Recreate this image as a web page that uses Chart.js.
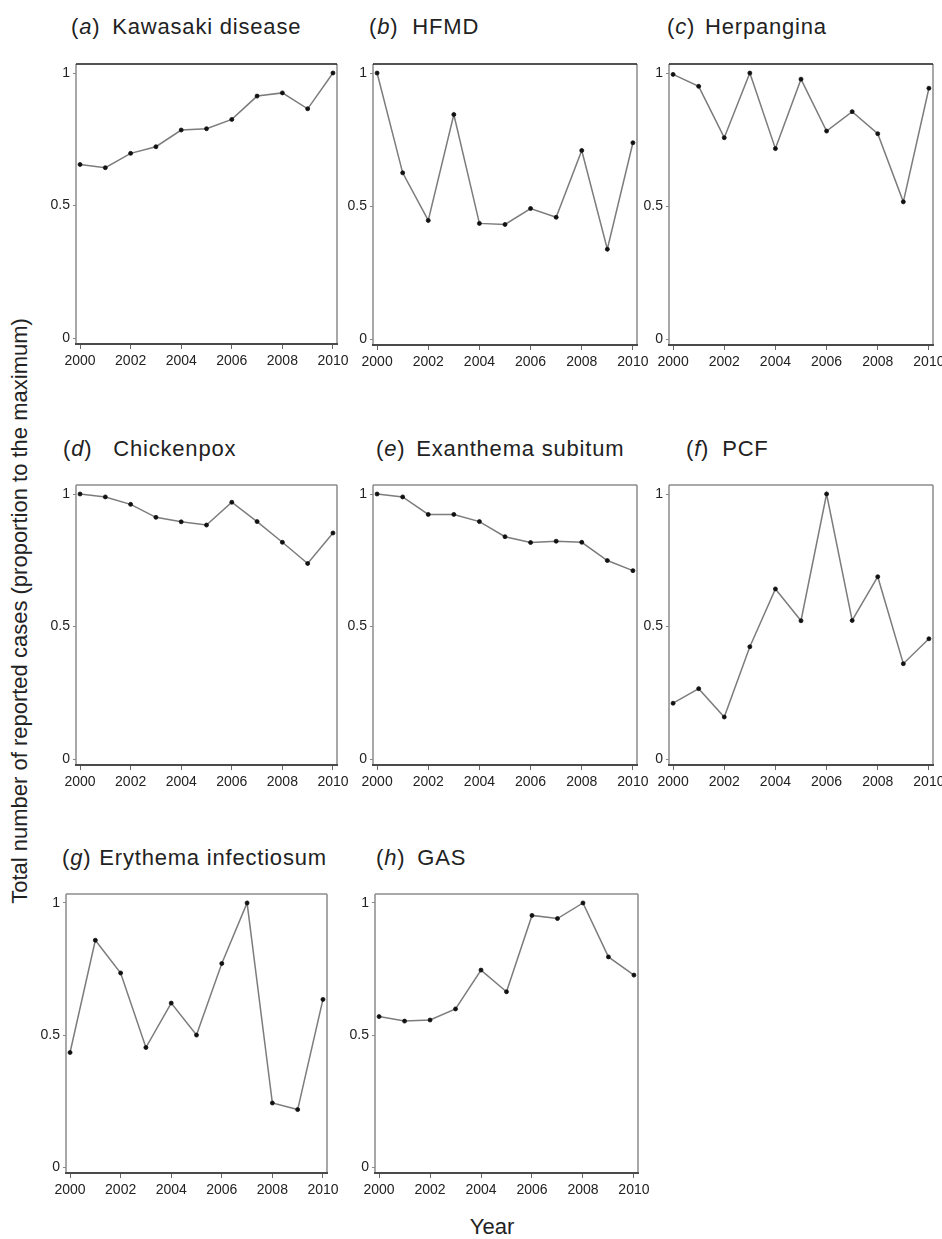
<!DOCTYPE html>
<html lang="en">
<head>
<meta charset="UTF-8">
<title>Reported cases, proportion to the maximum, 2000-2010</title>
<script src="https://cdn.jsdelivr.net/npm/chart.js@4.4.1/dist/chart.umd.min.js"></script>
<style>
  body { margin: 0; background: #fff; }
  #page { position: relative; width: 942px; height: 1239px; overflow: hidden; font-family: "Liberation Sans", Arial, sans-serif; color: #222; }
  canvas { position: absolute; }
  .title { position: absolute; font-size: 22px; line-height: 22px; letter-spacing: 0.8px; white-space: nowrap; }
  .title i { font-style: italic; }
  #ytitle { position: absolute; left: 20px; top: 611px; font-size: 22px; white-space: nowrap; transform: translate(-50%, -50%) rotate(-90deg); }
  #xtitle { position: absolute; left: 492px; top: 1216px; font-size: 22px; line-height: 22px; transform: translateX(-50%); }
</style>
</head>
<body>
<div id="page">
  <div id="ytitle">Total number of reported cases (proportion to the maximum)</div>
  <div id="xtitle">Year</div>
</div>
<script>
// data
const years = [2000, 2001, 2002, 2003, 2004, 2005, 2006, 2007, 2008, 2009, 2010];
const xTicks = [2000, 2002, 2004, 2006, 2008, 2010];
const yTicks = [0, 0.5, 1];
const letters = ['a', 'b', 'c', 'd', 'e', 'f', 'g', 'h'];
const names = ['Kawasaki disease', 'HFMD', 'Herpangina', 'Chickenpox', 'Exanthema subitum', 'PCF', 'Erythema infectiosum', 'GAS'];

const kawasaki   = [0.655, 0.643, 0.697, 0.722, 0.785, 0.79, 0.825, 0.913, 0.925, 0.865, 1.0];
const hfmd       = [1.0, 0.625, 0.446, 0.844, 0.435, 0.431, 0.491, 0.458, 0.709, 0.338, 0.738];
const herpangina = [0.995, 0.95, 0.757, 1.0, 0.716, 0.977, 0.782, 0.855, 0.772, 0.516, 0.943];
const chickenpox = [1.0, 0.989, 0.961, 0.912, 0.895, 0.883, 0.969, 0.896, 0.818, 0.738, 0.853];
const exanthema  = [1.0, 0.989, 0.923, 0.923, 0.896, 0.839, 0.817, 0.822, 0.818, 0.749, 0.711];
const pcf        = [0.211, 0.266, 0.159, 0.424, 0.642, 0.522, 1.0, 0.523, 0.688, 0.36, 0.454];
const erythema   = [0.434, 0.859, 0.735, 0.453, 0.621, 0.50, 0.771, 1.0, 0.243, 0.218, 0.635];
const gas        = [0.57, 0.553, 0.557, 0.599, 0.746, 0.664, 0.953, 0.941, 1.0, 0.796, 0.727];
const series = [kawasaki, hfmd, herpangina, chickenpox, exanthema, pcf, erythema, gas];

// panel layout: plot frame (l, t, r, b), title position and gap
const frames = [
  { l: 76,  t: 64,  r: 337, b: 344,  tx: 71,  ty: 16,  gap: 12, top: '#1a1a1a' },
  { l: 373, t: 64,  r: 637, b: 345,  tx: 369, ty: 16,  gap: 14, top: '#1a1a1a' },
  { l: 669, t: 64,  r: 933, b: 345,  tx: 667, ty: 16,  gap: 10, top: '#1a1a1a' },
  { l: 76,  t: 485, r: 337, b: 765,  tx: 63,  ty: 438, gap: 21, top: '#8c8c8c' },
  { l: 373, t: 485, r: 637, b: 765,  tx: 376, ty: 438, gap: 11, top: '#8c8c8c' },
  { l: 669, t: 485, r: 933, b: 765,  tx: 686, ty: 438, gap: 13, top: '#8c8c8c' },
  { l: 66,  t: 894, r: 327, b: 1173, tx: 62,  ty: 847, gap: 8,  top: '#8c8c8c' },
  { l: 375, t: 894, r: 638, b: 1173, tx: 376, ty: 847, gap: 12, top: '#8c8c8c' }
];

const framePlugin = {
  id: 'frame',
  beforeDatasetsDraw(chart, args, opts) {
    const { ctx, chartArea: a } = chart;
    ctx.save();
    ctx.lineWidth = 1.5;
    ctx.strokeStyle = '#8c8c8c';
    ctx.beginPath();
    ctx.moveTo(a.left, a.bottom); ctx.lineTo(a.left, a.top);
    ctx.moveTo(a.right, a.top); ctx.lineTo(a.right, a.bottom);
    ctx.stroke();
    ctx.strokeStyle = opts.top;
    ctx.beginPath();
    ctx.moveTo(a.left, a.top); ctx.lineTo(a.right, a.top);
    ctx.stroke();
    ctx.lineWidth = 2;
    ctx.strokeStyle = '#4a4a4a';
    ctx.beginPath();
    ctx.moveTo(a.left - 1, a.bottom); ctx.lineTo(a.right + 1, a.bottom);
    ctx.stroke();
    ctx.restore();
  }
};

const page = document.getElementById('page');
const padL = 40, padT = 12, padR = 18, padB = 30;

frames.forEach((f, i) => {
  const title = document.createElement('div');
  title.className = 'title';
  title.style.left = f.tx + 'px';
  title.style.top = f.ty + 'px';
  title.innerHTML = '(<i>' + letters[i] + '</i>)<span style="margin-left:' + f.gap + 'px">' + names[i] + '</span>';
  page.appendChild(title);

  const canvas = document.createElement('canvas');
  canvas.width = f.r - f.l + padL + padR;
  canvas.height = f.b - f.t + padT + padB;
  canvas.style.left = (f.l - padL) + 'px';
  canvas.style.top = (f.t - padT) + 'px';
  page.appendChild(canvas);

  new Chart(canvas, {
    type: 'line',
    data: {
      datasets: [{
        data: years.map((yr, k) => ({ x: yr, y: series[i][k] })),
        borderColor: '#7c7c7c',
        borderWidth: 1.5,
        pointRadius: 2,
        pointBackgroundColor: '#111',
        pointBorderColor: '#111',
        pointBorderWidth: 0.8,
        tension: 0
      }]
    },
    options: {
      responsive: false,
      animation: false,
      devicePixelRatio: 1,
      layout: { padding: { left: 0, top: padT, right: padR, bottom: 0 } },
      plugins: { legend: { display: false }, tooltip: { enabled: false }, frame: { top: f.top } },
      scales: {
        x: {
          type: 'linear',
          min: 1999.84,
          max: 2010.16,
          afterBuildTicks: s => { s.ticks = xTicks.map(v => ({ value: v })); },
          afterFit: s => { s.height = padB; s.paddingLeft = 0; s.paddingRight = 0; },
          grid: { drawOnChartArea: false, drawTicks: true, tickLength: 5, color: '#666', lineWidth: 1 },
          border: { display: false },
          ticks: {
            padding: 4,
            maxRotation: 0,
            color: '#222',
            font: { family: '"Liberation Sans Narrow", "Liberation Sans", Arial, sans-serif', size: 14 },
            callback: v => String(v)
          }
        },
        y: {
          min: -0.022,
          max: 1.034,
          afterBuildTicks: s => { s.ticks = yTicks.map(v => ({ value: v })); },
          afterFit: s => { s.width = padL; s.paddingTop = 0; s.paddingBottom = 0; },
          grid: { drawOnChartArea: false, drawTicks: true, tickLength: 3, color: '#888', lineWidth: 1 },
          border: { display: false },
          ticks: {
            padding: 3,
            color: '#222',
            font: { family: '"Liberation Sans", Arial, sans-serif', size: 14 },
            callback: v => String(v)
          }
        }
      }
    },
    plugins: [framePlugin]
  });
});
</script>
</body>
</html>
